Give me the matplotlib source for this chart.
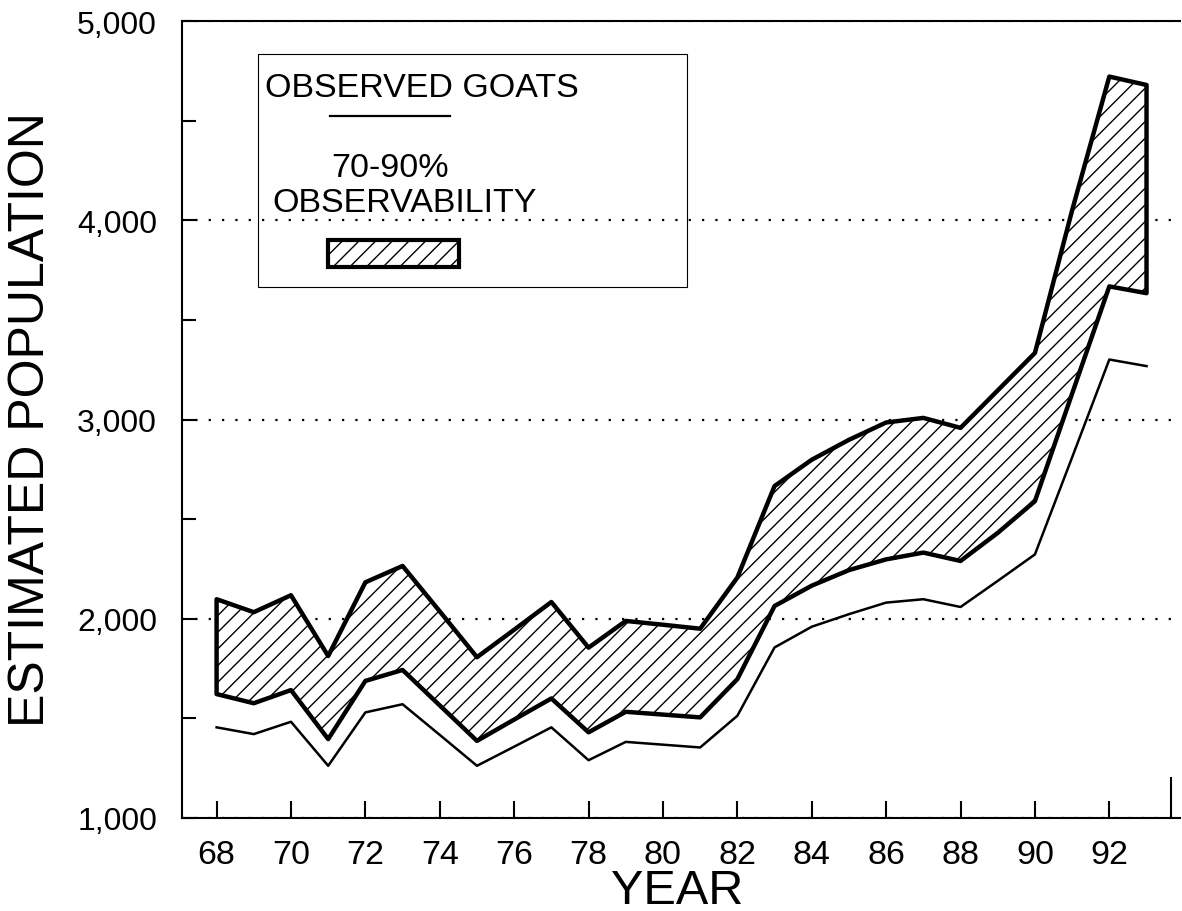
import matplotlib
matplotlib.use('Agg')
import matplotlib.pyplot as plt
from matplotlib.patches import Rectangle
from matplotlib.lines import Line2D

plt.rcParams['font.family'] = ['Liberation Sans', 'DejaVu Sans']
plt.rcParams['hatch.linewidth'] = 1.0

# ---- data ----
years = list(range(68, 94))
observed = [1455, 1421, 1483, 1262, 1530, 1571, 1417, 1262, 1358, 1455,
            1290, 1382, 1368, 1354, 1513, 1856, 1960, 2023, 2081, 2098,
            2059, 2190, 2323, 2810, 3301, 3268]
band_low = [1622, 1576, 1642, 1396, 1688, 1743, 1565, 1387, 1494, 1600,
            1430, 1533, 1519, 1505, 1697, 2064, 2166, 2244, 2298, 2332,
            2290, 2431, 2590, 3130, 3668, 3634]
band_high = [2098, 2033, 2118, 1813, 2183, 2265, 2037, 1807, 1945, 2084,
             1855, 1989, 1970, 1950, 2207, 2666, 2798, 2898, 2985, 3008,
             2958, 3146, 3334, 4050, 4721, 4679]
xticks = list(range(68, 93, 2))
xtick_labels = [str(t) for t in xticks]
yticks = [1000, 2000, 3000, 4000, 5000]
ytick_labels = ['1,000', '2,000', '3,000', '4,000', '5,000']
yminor = [1500, 2500, 3500, 4500]

W, H = 1182, 912
def fx(px):
    return px / W
def fy(py):
    return 1 - py / H

fig = plt.figure(figsize=(W / 100, H / 100), dpi=100)
ax = fig.add_axes([fx(182), fy(819), (1180 - 182) / W, (819 - 22) / H])
ax.set_xlim(67.07, 93.9)
ax.set_ylim(1000, 5000)

ax.fill_between(years, band_low, band_high, facecolor='white',
                edgecolor='black', hatch='//', linewidth=3.2, zorder=2)
ax.plot(years, observed, color='black', lw=1.8, zorder=3)

ax.set_xticks(xticks)
ax.set_xticklabels(xtick_labels)
ax.set_yticks(yticks)
ax.set_yticklabels(ytick_labels)
ax.set_yticks(yminor, minor=True)
ax.tick_params(axis='x', which='both', direction='in', length=12, width=1.5,
               pad=15, labelsize=24.5)
ax.tick_params(axis='y', which='both', direction='in', length=10, width=1.5,
               pad=18, labelsize=23)
ax.grid(axis='y', which='major', color='black', linestyle=(0, (1, 5)),
        linewidth=1.6)
ax.set_axisbelow(True)

for s in ['left', 'bottom', 'top']:
    ax.spines[s].set_linewidth(1.5)
ax.spines['right'].set_linewidth(1.5)
ax.spines['right'].set_position(('data', 93.65))
ax.spines['right'].set_bounds(1000, 1200)

# axis titles
fig.text(fx(677), fy(904), 'YEAR', fontsize=35, ha='center', va='baseline')
fig.text(fx(31), fy(420), 'ESTIMATED POPULATION', fontsize=36,
         rotation=90, ha='center', va='center')

# legend box
fig.patches.append(Rectangle((fx(258), fy(288)), (687 - 258) / W,
                             (288 - 55) / H, transform=fig.transFigure,
                             fill=False, lw=0.8, edgecolor='black'))
fig.text(fx(265), fy(97), 'OBSERVED GOATS', fontsize=24.5, ha='left',
         va='baseline')
fig.lines.append(Line2D([fx(330), fx(450)], [fy(117), fy(117)],
                        transform=fig.transFigure, color='black', lw=1.6))
fig.text(fx(390), fy(177), '70-90%', fontsize=24.5, ha='center', va='baseline')
fig.text(fx(405), fy(212), 'OBSERVABILITY', fontsize=24.5, ha='center',
         va='baseline')
fig.patches.append(Rectangle((fx(328), fy(268)), (459 - 328) / W,
                             (268 - 241) / H, transform=fig.transFigure,
                             facecolor='white', edgecolor='black', hatch='//',
                             lw=3))

fig.savefig('out.png', dpi=100)
